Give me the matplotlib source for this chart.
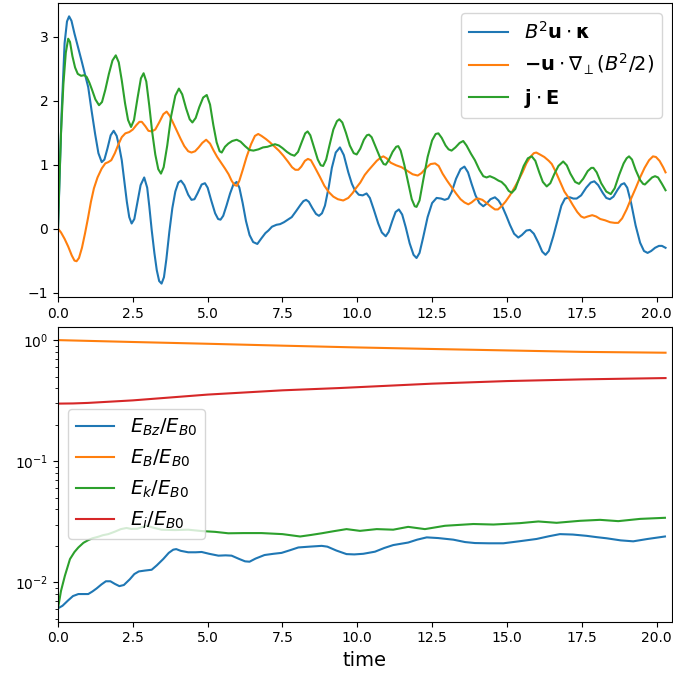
import numpy as np
import matplotlib
matplotlib.use('Agg')
import matplotlib.pyplot as plt

# power terms (top panel), each sampled at its own times
t_curv = [0, 0.06, 0.12, 0.22, 0.30, 0.37, 0.45, 0.55, 0.79, 1.01, 1.12, 1.24, 1.35, 1.46, 1.55,
          1.65, 1.76, 1.86, 1.96, 2.05, 2.13, 2.22, 2.30, 2.38, 2.46, 2.55, 2.65, 2.76, 2.88,
          2.98, 3.05, 3.13, 3.22, 3.30, 3.38, 3.46, 3.54, 3.62, 3.72, 3.82, 3.92, 4.02, 4.11,
          4.22, 4.35, 4.46, 4.56, 4.66, 4.80, 4.91, 5.00, 5.12, 5.25, 5.35, 5.43, 5.52, 5.63,
          5.75, 5.86, 5.97, 6.06, 6.17, 6.28, 6.40, 6.52, 6.66, 6.80, 6.93, 7.03, 7.15, 7.30,
          7.42, 7.55, 7.68, 7.81, 7.95, 8.10, 8.20, 8.29, 8.38, 8.50, 8.62, 8.72, 8.82, 8.92,
          9.05, 9.15, 9.28, 9.42, 9.55, 9.70, 9.82, 9.92, 10.05, 10.18, 10.31, 10.42, 10.55,
          10.70, 10.82, 10.95, 11.05, 11.17, 11.28, 11.39, 11.50, 11.62, 11.75, 11.88, 11.98,
          12.08, 12.20, 12.35, 12.50, 12.65, 12.80, 12.92, 13.04, 13.16, 13.30, 13.45, 13.58,
          13.70, 13.82, 13.95, 14.08, 14.21, 14.32, 14.45, 14.60, 14.72, 14.85, 14.98, 15.10,
          15.24, 15.38, 15.50, 15.65, 15.77, 15.90, 16.05, 16.18, 16.29, 16.40, 16.55, 16.70,
          16.82, 16.94, 17.10, 17.22, 17.33, 17.48, 17.65, 17.80, 17.92, 18.05, 18.20, 18.32,
          18.44, 18.56, 18.70, 18.82, 18.92, 19.02, 19.15, 19.30, 19.45, 19.58, 19.70, 19.82,
          19.95, 20.08, 20.18, 20.30]
curv = [0, 0.9, 1.8, 2.9, 3.24, 3.32, 3.25, 3.05, 2.62, 2.21, 1.85, 1.48, 1.18, 1.04, 1.08,
        1.25, 1.46, 1.53, 1.45, 1.27, 1.07, 0.72, 0.42, 0.18, 0.08, 0.15, 0.40, 0.68, 0.80,
        0.64, 0.35, -0.02, -0.38, -0.65, -0.82, -0.86, -0.76, -0.48, -0.05, 0.32, 0.58, 0.72, 0.75,
        0.68, 0.53, 0.45, 0.46, 0.55, 0.69, 0.71, 0.64, 0.44, 0.24, 0.15, 0.14, 0.20, 0.36,
        0.55, 0.69, 0.73, 0.64, 0.40, 0.12, -0.10, -0.21, -0.24, -0.15, -0.07, -0.03, 0.03, 0.06,
        0.07, 0.10, 0.14, 0.18, 0.27, 0.37, 0.43, 0.45, 0.42, 0.32, 0.23, 0.20, 0.24, 0.36,
        0.66, 0.95, 1.19, 1.27, 1.15, 0.88, 0.70, 0.60, 0.53, 0.52, 0.55, 0.48, 0.30,
        0.08, -0.06, -0.12, -0.05, 0.12, 0.26, 0.30, 0.22, 0.02, -0.23, -0.41, -0.46,
        -0.38, -0.14, 0.18, 0.40, 0.48, 0.47, 0.45, 0.47, 0.58, 0.78, 0.93, 0.97,
        0.88, 0.70, 0.52, 0.40, 0.35, 0.39, 0.46, 0.49, 0.44, 0.34, 0.20, 0.06,
        -0.08, -0.14, -0.10, -0.03, -0.02, -0.08, -0.22, -0.36, -0.41, -0.35, -0.12, 0.15,
        0.36, 0.47, 0.49, 0.47, 0.47, 0.52, 0.64, 0.72, 0.74, 0.68, 0.56, 0.48,
        0.46, 0.50, 0.61, 0.69, 0.71, 0.64, 0.40, 0.05, -0.22, -0.35, -0.38, -0.35,
        -0.30, -0.27, -0.27, -0.30]

t_grad = [0, 0.10, 0.22, 0.34, 0.46, 0.55, 0.62, 0.70, 0.80, 0.90, 1.00, 1.10, 1.20, 1.32, 1.46,
          1.58, 1.68, 1.78, 1.90, 2.02, 2.13, 2.25, 2.38, 2.50, 2.62, 2.72, 2.80, 2.92, 3.02,
          3.13, 3.25, 3.38, 3.52, 3.63, 3.74, 3.88, 4.00, 4.10, 4.22, 4.35, 4.46, 4.58, 4.70,
          4.82, 4.95, 5.08, 5.20, 5.32, 5.45, 5.58, 5.70, 5.80, 5.90, 5.98, 6.06, 6.18, 6.30,
          6.45, 6.58, 6.69, 6.80, 6.95, 7.08, 7.22, 7.38, 7.53, 7.68, 7.82, 7.93, 8.03, 8.13,
          8.25, 8.35, 8.45, 8.58, 8.75, 8.90, 9.05, 9.20, 9.35, 9.53, 9.70, 9.85, 9.95, 10.10,
          10.25, 10.37, 10.50, 10.65, 10.78, 10.87, 10.98, 11.12, 11.30, 11.48, 11.65, 11.85,
          12.02, 12.15, 12.30, 12.45, 12.60, 12.72, 12.85, 13.00, 13.15, 13.30, 13.45, 13.58,
          13.71, 13.82, 13.95, 14.05, 14.18, 14.32, 14.48, 14.60, 14.70, 14.82, 14.95, 15.10,
          15.25, 15.38, 15.52, 15.65, 15.78, 15.90, 15.98, 16.10, 16.25, 16.40, 16.50, 16.62,
          16.78, 16.92, 17.05, 17.20, 17.35, 17.48, 17.58, 17.70, 17.85, 17.98, 18.12, 18.28,
          18.45, 18.60, 18.72, 18.85, 19.00, 19.15, 19.30, 19.45, 19.60, 19.75, 19.88, 19.98,
          20.10, 20.22, 20.30]
grad = [0, -0.06, -0.16, -0.28, -0.42, -0.50, -0.51, -0.46, -0.30, -0.08, 0.16, 0.42, 0.63, 0.80, 0.94,
        1.02, 1.04, 1.07, 1.18, 1.32, 1.43, 1.49, 1.51, 1.55, 1.62, 1.67, 1.67, 1.60, 1.53,
        1.52, 1.55, 1.66, 1.79, 1.83, 1.76, 1.62, 1.50, 1.40, 1.29, 1.21, 1.19, 1.21, 1.27,
        1.34, 1.39, 1.33, 1.22, 1.12, 1.03, 0.94, 0.85, 0.75, 0.68, 0.67, 0.75, 0.93, 1.12,
        1.32, 1.45, 1.48, 1.45, 1.40, 1.35, 1.29, 1.22, 1.14, 1.05, 0.96, 0.92, 0.92, 0.97,
        1.06, 1.09, 1.07, 0.96, 0.81, 0.67, 0.57, 0.50, 0.46, 0.44, 0.48, 0.56, 0.63, 0.72,
        0.84, 0.91, 0.98, 1.06, 1.11, 1.13, 1.10, 1.03, 0.99, 0.96, 0.91, 0.85,
        0.83, 0.87, 0.95, 1.01, 1.02, 0.98, 0.86, 0.75, 0.65, 0.55, 0.46, 0.41,
        0.38, 0.41, 0.46, 0.47, 0.45, 0.40, 0.34, 0.30, 0.30, 0.35, 0.42, 0.52,
        0.64, 0.75, 0.88, 1.02, 1.12, 1.18, 1.19, 1.16, 1.12, 1.06, 1.01, 0.90,
        0.73, 0.58, 0.49, 0.37, 0.26, 0.19, 0.17, 0.19, 0.21, 0.19, 0.15, 0.13,
        0.10, 0.09, 0.09, 0.16, 0.30, 0.47, 0.63, 0.80, 0.95, 1.07, 1.13, 1.12,
        1.06, 0.96, 0.88]

t_jE = [0, 0.05, 0.10, 0.18, 0.26, 0.34, 0.40, 0.48, 0.57, 0.66, 0.77, 0.88, 0.96, 1.05, 1.13,
        1.25, 1.37, 1.47, 1.58, 1.70, 1.82, 1.93, 2.03, 2.13, 2.24, 2.34, 2.44, 2.54, 2.66,
        2.77, 2.86, 2.95, 3.05, 3.15, 3.25, 3.35, 3.44, 3.53, 3.65, 3.78, 3.92, 4.04, 4.15,
        4.28, 4.40, 4.49, 4.60, 4.72, 4.85, 4.97, 5.08, 5.19, 5.30, 5.40, 5.47, 5.58, 5.69,
        5.82, 5.97, 6.10, 6.25, 6.40, 6.53, 6.70, 6.85, 7.00, 7.12, 7.25, 7.38, 7.50, 7.65,
        7.78, 7.90, 8.02, 8.15, 8.26, 8.34, 8.43, 8.55, 8.68, 8.78, 8.86, 8.96, 9.08, 9.20,
        9.32, 9.40, 9.50, 9.62, 9.75, 9.88, 9.98, 10.10, 10.22, 10.32, 10.39, 10.48, 10.62,
        10.78, 10.88, 10.95, 11.05, 11.18, 11.30, 11.37, 11.45, 11.57, 11.70, 11.82, 11.92,
        11.98, 12.08, 12.20, 12.35, 12.50, 12.62, 12.71, 12.82, 12.95, 13.05, 13.15, 13.28,
        13.42, 13.54, 13.65, 13.80, 13.93, 14.08, 14.21, 14.32, 14.43, 14.58, 14.72, 14.82,
        14.95, 15.06, 15.16, 15.28, 15.42, 15.56, 15.70, 15.83, 15.95, 16.08, 16.20, 16.33,
        16.45, 16.58, 16.72, 16.88, 17.00, 17.12, 17.28, 17.41, 17.55, 17.70, 17.82, 17.89,
        18.00, 18.15, 18.32, 18.47, 18.60, 18.75, 18.90, 19.00, 19.08, 19.18, 19.30, 19.45,
        19.55, 19.61, 19.72, 19.85, 19.95, 20.05, 20.18, 20.30]
jE = [0, 0.8, 1.5, 2.26, 2.75, 2.97, 2.92, 2.70, 2.52, 2.42, 2.39, 2.40, 2.37, 2.28, 2.18,
      2.02, 1.93, 1.98, 2.17, 2.42, 2.63, 2.71, 2.60, 2.32, 1.96, 1.70, 1.59, 1.70, 2.05,
      2.35, 2.43, 2.30, 1.92, 1.50, 1.16, 0.93, 0.86, 0.96, 1.30, 1.76, 2.08, 2.19, 2.10,
      1.88, 1.71, 1.66, 1.73, 1.90, 2.05, 2.09, 1.94, 1.62, 1.35, 1.21, 1.19, 1.28, 1.33,
      1.37, 1.39, 1.36, 1.29, 1.23, 1.22, 1.24, 1.27, 1.28, 1.30, 1.32, 1.30, 1.26, 1.20,
      1.16, 1.14, 1.20, 1.36, 1.49, 1.52, 1.46, 1.28, 1.08, 0.99, 0.98, 1.08, 1.32, 1.55,
      1.68, 1.71, 1.66, 1.50, 1.30, 1.18, 1.16, 1.25, 1.39, 1.46, 1.47, 1.43, 1.27,
      1.09, 1.01, 1.00, 1.07, 1.20, 1.28, 1.29, 1.22, 1.00, 0.72, 0.46, 0.35,
      0.34, 0.44, 0.75, 1.12, 1.38, 1.48, 1.49, 1.42, 1.30, 1.24, 1.22, 1.27,
      1.34, 1.37, 1.30, 1.17, 1.07, 0.92, 0.82, 0.80, 0.82, 0.79, 0.75, 0.73,
      0.67, 0.59, 0.56, 0.62, 0.80, 0.98, 1.10, 1.13, 1.06, 0.88, 0.73, 0.66,
      0.71, 0.85, 0.98, 1.05, 0.99, 0.86, 0.73, 0.70, 0.78, 0.90, 0.95, 0.95,
      0.88, 0.71, 0.58, 0.54, 0.63, 0.84, 1.02, 1.10, 1.13, 1.08, 0.92, 0.76,
      0.70, 0.69, 0.74, 0.80, 0.82, 0.80, 0.70, 0.60]

# energies normalised by initial magnetic energy (bottom panel)
t_Bz = [0, 0.15, 0.34, 0.50, 0.68, 0.85, 1.01, 1.15, 1.29, 1.45, 1.60, 1.75, 1.90, 2.05, 2.20,
        2.40, 2.55, 2.70, 2.90, 3.13, 3.30, 3.52, 3.70, 3.85, 3.95, 4.10, 4.35, 4.60, 4.80,
        5.05, 5.36, 5.60, 5.80, 6.05, 6.25, 6.40, 6.60, 6.90, 7.20, 7.47, 7.75, 8.03, 8.40,
        8.81, 9.00, 9.30, 9.64, 9.90, 10.20, 10.59, 10.90, 11.20, 11.70, 12.00, 12.32, 12.70,
        13.21, 13.60, 13.93, 14.40, 14.88, 15.40, 15.99, 16.40, 16.77, 17.20, 17.66, 18.00,
        18.33, 18.80, 19.22, 19.70, 20.28]
E_Bz = [0.0061, 0.0064, 0.0071, 0.0077, 0.0080, 0.0080, 0.0080, 0.0084, 0.0089, 0.0096, 0.0102,
        0.0102, 0.0097, 0.0093, 0.0095, 0.0106, 0.0117, 0.0123, 0.0125, 0.0127, 0.0138, 0.0156,
        0.0175, 0.0186, 0.0188, 0.0182, 0.0177, 0.0177, 0.0178, 0.0172, 0.0166, 0.0167, 0.0166,
        0.0156, 0.0149, 0.0148, 0.0157, 0.0168, 0.0172, 0.0175, 0.0184, 0.0194, 0.0197, 0.0200,
        0.0197, 0.0183, 0.0171, 0.0170, 0.0172, 0.0179, 0.0192, 0.0203, 0.0213, 0.0225, 0.0235,
        0.0232, 0.0225, 0.0215, 0.0211, 0.0210, 0.0210, 0.0218, 0.0228, 0.0240, 0.0250, 0.0248,
        0.0242, 0.0236, 0.0231, 0.0222, 0.0218, 0.0228, 0.0239]

t_B = [0, 2.5, 5.0, 7.5, 10.0, 12.5, 15.0, 17.5, 20.3]
E_B = [1.0, 0.965, 0.933, 0.90, 0.87, 0.845, 0.822, 0.80, 0.787]

t_k = [0, 0.10, 0.23, 0.40, 0.55, 0.68, 0.85, 1.01, 1.15, 1.35, 1.50, 1.68, 1.90, 2.10, 2.29,
       2.45, 2.65, 2.96, 3.20, 3.46, 3.90, 4.35, 4.80, 5.25, 5.69, 6.20, 6.80, 7.50, 8.09,
       8.45, 8.81, 9.20, 9.64, 10.09, 10.65, 11.20, 11.70, 12.26, 12.93, 13.88, 14.55, 15.43,
       16.05, 16.66, 17.44, 18.11, 18.72, 19.45, 20.28]
E_k = [0.0061, 0.0085, 0.01133, 0.01556, 0.0178, 0.0194, 0.0212, 0.0223, 0.0231, 0.0238, 0.0245,
       0.025, 0.0262, 0.0275, 0.0281, 0.0276, 0.0277, 0.0293, 0.0282, 0.0272, 0.0270, 0.0272,
       0.0265, 0.0261, 0.0254, 0.0255, 0.0255, 0.0250, 0.0239, 0.0246, 0.0254, 0.0264, 0.0275,
       0.0266, 0.0275, 0.0272, 0.0287, 0.0275, 0.0293, 0.0303, 0.030, 0.0308, 0.0318, 0.031,
       0.0322, 0.0328, 0.032, 0.0334, 0.0341]

t_i = [0, 0.5, 1.0, 2.5, 5.0, 7.5, 9.4, 12.5, 15.0, 17.5, 20.3]
E_i = [0.299, 0.300, 0.303, 0.318, 0.355, 0.385, 0.402, 0.437, 0.459, 0.474, 0.486]

fig = plt.figure(figsize=(6.73, 6.76), dpi=100)
ax1 = fig.add_axes([0.0862, 0.5607, 0.9116, 0.4349])
ax2 = fig.add_axes([0.0862, 0.0803, 0.9116, 0.4364])

ax1.plot(t_curv, curv, label=r'$B^2\mathbf{u}\cdot\mathbf{\kappa}$')
ax1.plot(t_grad, grad, label=r'$\mathbf{-u}\cdot\nabla_\perp(B^2/2)$')
ax1.plot(t_jE, jE, label=r'$\mathbf{j}\cdot\mathbf{E}$')
ax1.set_xlim(0, 20.5)
ax1.legend(loc='upper right', fontsize=14)

ax2.semilogy(t_Bz, E_Bz, label=r'$E_{Bz}/E_{B0}$')
ax2.semilogy(t_B, E_B, label=r'$E_B/E_{B0}$')
ax2.semilogy(t_k, E_k, label=r'$E_k/E_{B0}$')
ax2.semilogy(t_i, E_i, label=r'$E_i/E_{B0}$')
ax2.set_xlim(0, 20.5)
ax2.set_xlabel('time', fontsize=14)
ax2.legend(loc='center left', fontsize=14)

fig.savefig('out.png', dpi=100)
